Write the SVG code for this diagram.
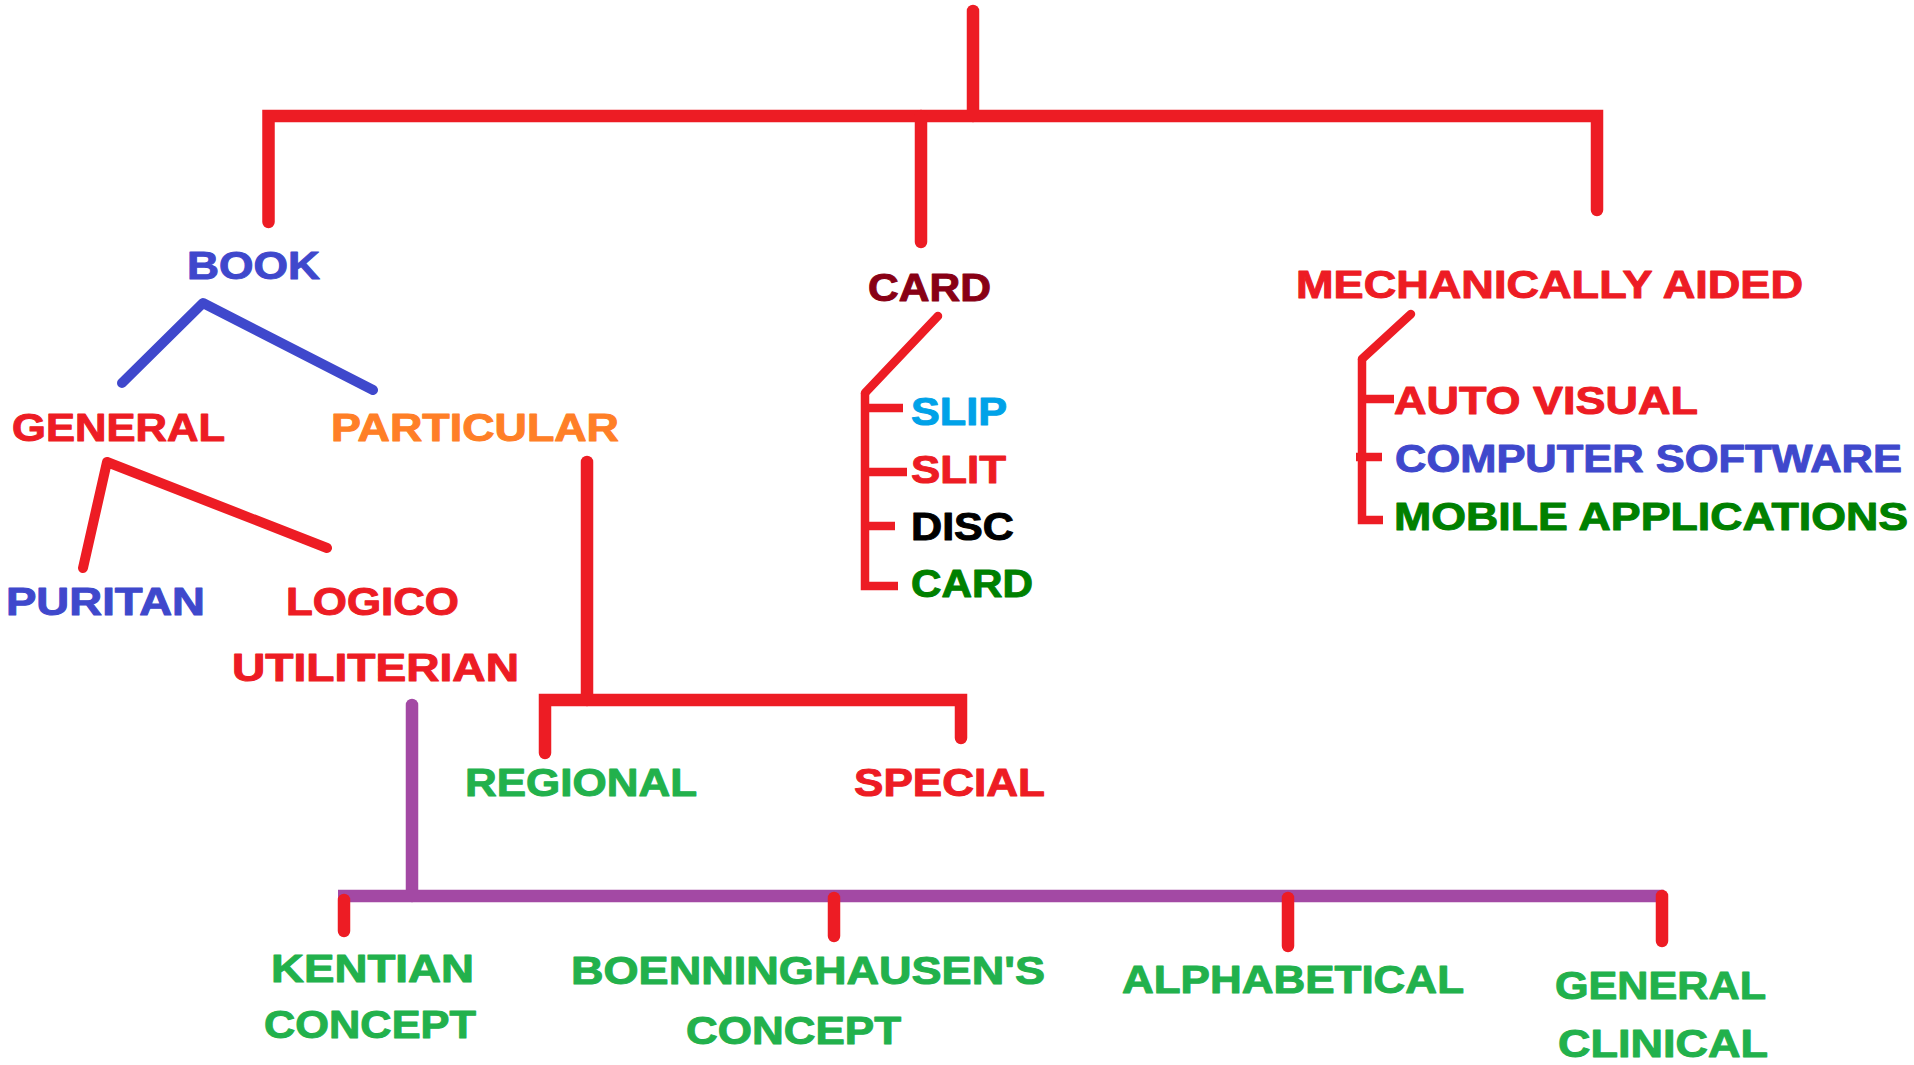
<svg xmlns="http://www.w3.org/2000/svg" width="1914" height="1065" viewBox="0 0 1914 1065">
<style>
.t{font-family:"Liberation Sans",Arial,sans-serif;font-weight:bold;font-size:39px;stroke-width:1;stroke-linejoin:round;}
.red{fill:#ed1c24;stroke:#ed1c24}.blue{fill:#3f48cc;stroke:#3f48cc}.dred{fill:#880015;stroke:#880015}.orange{fill:#ff7f27;stroke:#ff7f27}
.lblue{fill:#00a2e8;stroke:#00a2e8}.green{fill:#22b14c;stroke:#22b14c}.dgreen{fill:#008000;stroke:#008000}.black{fill:#000;stroke:#000}
.ln{fill:none;stroke-linecap:round;stroke-linejoin:miter}
.r{stroke:#ed1c24}.b{stroke:#3f48cc}.p{stroke:#a349a4}
.w12{stroke-width:12.5}.w10{stroke-width:10}.w8{stroke-width:8.5}
</style>
<rect width="1914" height="1065" fill="#fff"/>
<g id="connectors">
<path class="ln r w12" d="M973,11 V116"/>
<path class="ln r w12" d="M268.5,222 V116 H1597 V210"/>
<path class="ln r w12" d="M921,116 V242"/>
<polyline class="ln b w10" points="122,383 203,303 373,390" style="stroke-linejoin:round"/>
<polyline class="ln r w10" points="83,568 107,462 327,548" style="stroke-linejoin:round"/>
<path class="ln r w12" d="M587,462 V700"/>
<path class="ln r w12" d="M545,753 V700 H961 V738"/>
<path class="ln p w12" d="M412,705 V896"/>
<path class="ln p w12" d="M338,896 H1664" style="stroke-linecap:butt"/>
<path class="ln r w12" d="M344,900 V931"/>
<path class="ln r w12" d="M834,898 V936"/>
<path class="ln r w12" d="M1288,898 V946"/>
<path class="ln r w12" d="M1662,896 V941"/>
<path class="ln r w8" d="M938,316 L865,393"/>
<path class="ln r w8" d="M865,393 V586 H898" style="stroke-linecap:butt"/>
<path class="ln r w8" d="M865,408 H903" style="stroke-linecap:butt"/>
<path class="ln r w8" d="M865,472 H907" style="stroke-linecap:butt"/>
<path class="ln r w8" d="M865,526 H895" style="stroke-linecap:butt"/>
<path class="ln r w8" d="M1411,314 L1362,359"/>
<path class="ln r w8" d="M1362,359 V520 H1383" style="stroke-linecap:butt"/>
<path class="ln r w8" d="M1362,399 H1394" style="stroke-linecap:butt"/>
<path class="ln r w8" d="M1356,457 H1382" style="stroke-linecap:butt"/>
</g>
<g id="book"><text class="t blue" x="187" y="279" textLength="133" lengthAdjust="spacingAndGlyphs">BOOK</text></g>
<g id="card"><text class="t dred" x="868" y="301" textLength="123" lengthAdjust="spacingAndGlyphs">CARD</text></g>
<g id="mechanically-aided"><text class="t red" x="1296" y="298" textLength="507" lengthAdjust="spacingAndGlyphs">MECHANICALLY AIDED</text></g>
<g id="general"><text class="t red" x="12" y="441" textLength="213" lengthAdjust="spacingAndGlyphs">GENERAL</text></g>
<g id="particular"><text class="t orange" x="331" y="441" textLength="288" lengthAdjust="spacingAndGlyphs">PARTICULAR</text></g>
<g id="puritan"><text class="t blue" x="6" y="615" textLength="199" lengthAdjust="spacingAndGlyphs">PURITAN</text></g>
<g id="logico-utiliterian">
<text class="t red" x="286" y="615" textLength="173" lengthAdjust="spacingAndGlyphs">LOGICO</text>
<text class="t red" x="232" y="681" textLength="287" lengthAdjust="spacingAndGlyphs">UTILITERIAN</text>
</g>
<g id="slip"><text class="t lblue" x="911" y="425" textLength="96" lengthAdjust="spacingAndGlyphs">SLIP</text></g>
<g id="slit"><text class="t red" x="911" y="483" textLength="95" lengthAdjust="spacingAndGlyphs">SLIT</text></g>
<g id="disc"><text class="t black" x="911" y="540" textLength="103" lengthAdjust="spacingAndGlyphs">DISC</text></g>
<g id="card2"><text class="t dgreen" x="911" y="597" textLength="122" lengthAdjust="spacingAndGlyphs">CARD</text></g>
<g id="auto-visual"><text class="t red" x="1394" y="414" textLength="304" lengthAdjust="spacingAndGlyphs">AUTO VISUAL</text></g>
<g id="computer-software"><text class="t blue" x="1395" y="472" textLength="507" lengthAdjust="spacingAndGlyphs">COMPUTER SOFTWARE</text></g>
<g id="mobile-applications"><text class="t dgreen" x="1394" y="530" textLength="514" lengthAdjust="spacingAndGlyphs">MOBILE APPLICATIONS</text></g>
<g id="regional"><text class="t green" x="465" y="796" textLength="232" lengthAdjust="spacingAndGlyphs">REGIONAL</text></g>
<g id="special"><text class="t red" x="854" y="796" textLength="191" lengthAdjust="spacingAndGlyphs">SPECIAL</text></g>
<g id="kentian">
<text class="t green" x="271" y="982" textLength="203" lengthAdjust="spacingAndGlyphs">KENTIAN</text>
<text class="t green" x="264" y="1038" textLength="212" lengthAdjust="spacingAndGlyphs">CONCEPT</text>
</g>
<g id="boenninghausen">
<text class="t green" x="571" y="984" textLength="474" lengthAdjust="spacingAndGlyphs">BOENNINGHAUSEN'S</text>
<text class="t green" x="686" y="1044" textLength="215" lengthAdjust="spacingAndGlyphs">CONCEPT</text>
</g>
<g id="alphabetical"><text class="t green" x="1122" y="993" textLength="342" lengthAdjust="spacingAndGlyphs">ALPHABETICAL</text></g>
<g id="general-clinical">
<text class="t green" x="1555" y="999" textLength="211" lengthAdjust="spacingAndGlyphs">GENERAL</text>
<text class="t green" x="1558" y="1057" textLength="210" lengthAdjust="spacingAndGlyphs">CLINICAL</text>
</g>
</svg>
